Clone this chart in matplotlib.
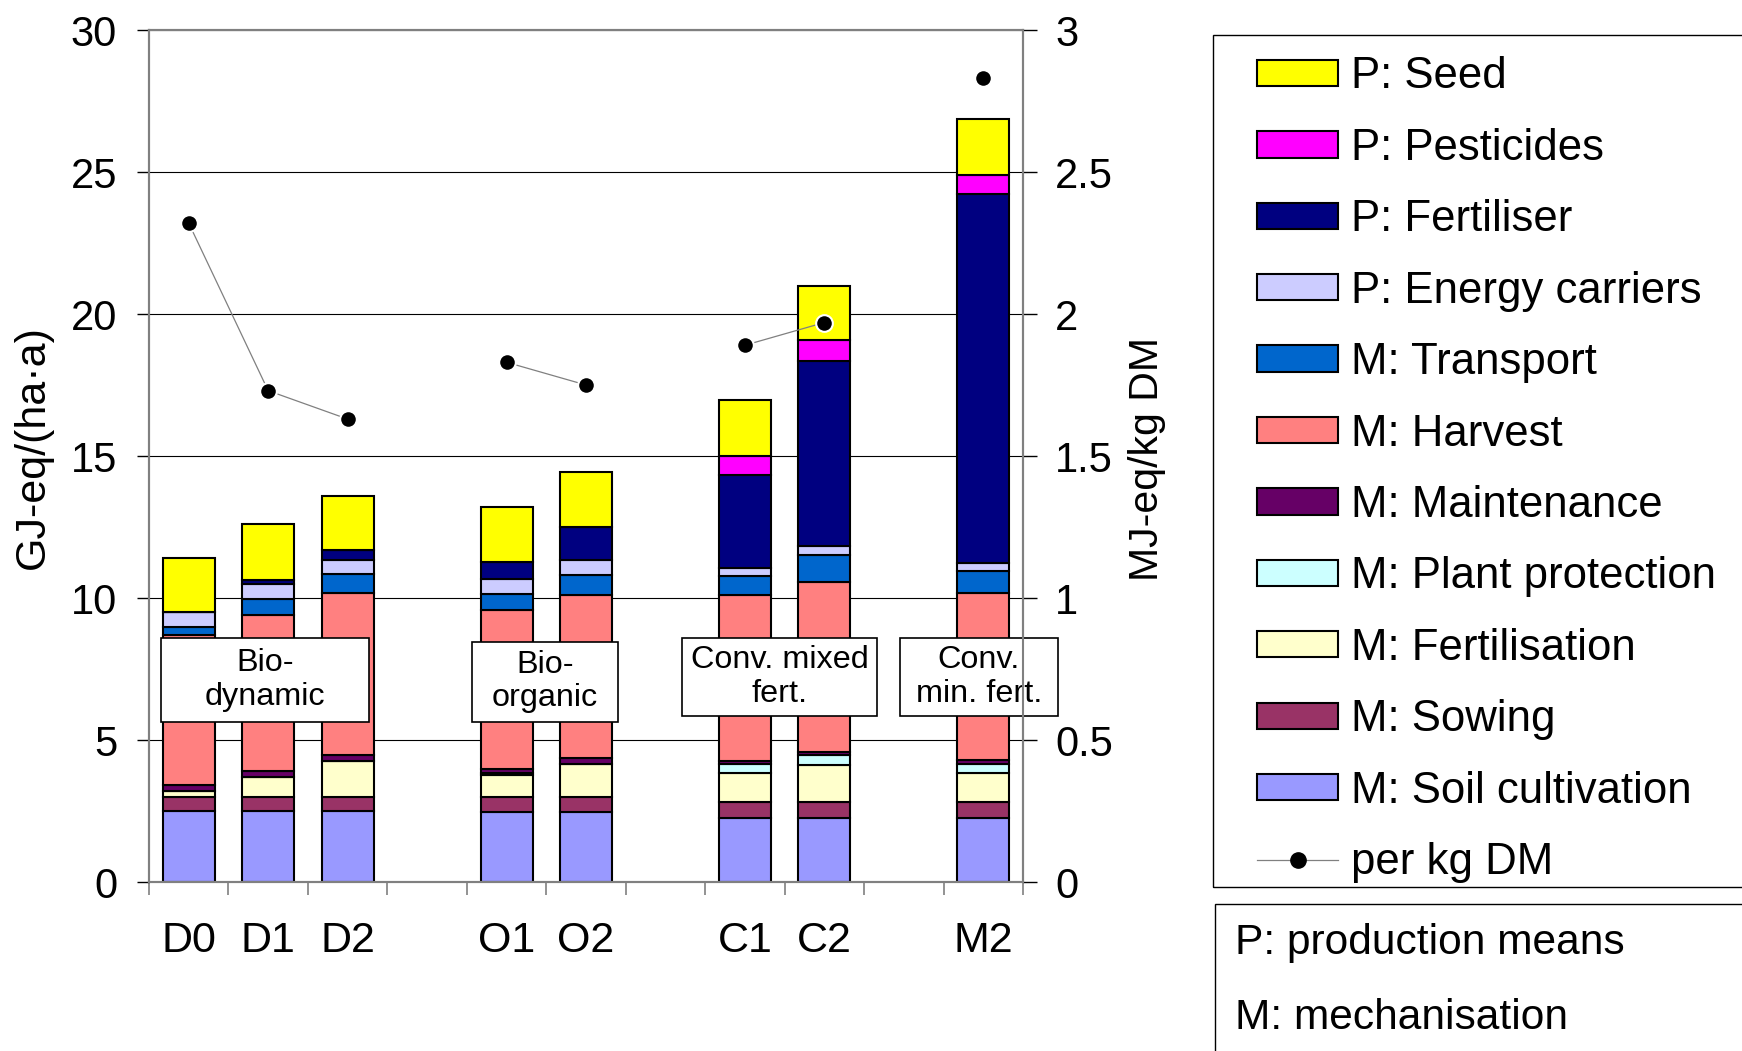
import numpy as np
import matplotlib
matplotlib.use("Agg")
import matplotlib.pyplot as plt
from matplotlib.patches import Patch, Rectangle
from matplotlib.lines import Line2D
from matplotlib.ticker import FuncFormatter

plt.rcParams["font.family"] = ["Liberation Sans", "DejaVu Sans"]

# x slots (blank slots separate the system groups)
slots = ["D0", "D1", "D2", "", "O1", "O2", "", "C1", "C2", "", "M2"]
systems = ["D0", "D1", "D2", "O1", "O2", "C1", "C2", "M2"]

# energy demand, GJ-eq/(ha*a), stacked bottom -> top
soil_cultivation = [2.50, 2.50, 2.50, 2.47, 2.47, 2.25, 2.25, 2.25]
sowing           = [0.48, 0.48, 0.48, 0.53, 0.53, 0.57, 0.57, 0.57]
fertilisation    = [0.24, 0.71, 1.27, 0.78, 1.16, 1.02, 1.31, 1.03]
plant_protection = [0.00, 0.00, 0.00, 0.05, 0.00, 0.31, 0.33, 0.32]
maintenance      = [0.20, 0.21, 0.21, 0.15, 0.19, 0.12, 0.12, 0.11]
harvest          = [5.27, 5.50, 5.70, 5.60, 5.75, 5.83, 5.99, 5.88]
transport        = [0.30, 0.58, 0.67, 0.55, 0.70, 0.67, 0.93, 0.78]
energy_carriers  = [0.50, 0.50, 0.52, 0.54, 0.55, 0.29, 0.32, 0.30]
fertiliser       = [0.00, 0.17, 0.33, 0.60, 1.15, 3.27, 6.53, 12.99]
pesticides       = [0.00, 0.00, 0.00, 0.00, 0.00, 0.67, 0.72, 0.68]
seed             = [1.93, 1.95, 1.92, 1.93, 1.94, 1.97, 1.93, 1.94]

# MJ-eq/kg DM (right axis)
per_kg_dm = [2.32, 1.73, 1.63, 1.83, 1.75, 1.89, 1.97, 2.83]

series = [
    ("M: Soil cultivation", soil_cultivation, "#9999FF"),
    ("M: Sowing", sowing, "#993366"),
    ("M: Fertilisation", fertilisation, "#FFFFCC"),
    ("M: Plant protection", plant_protection, "#CCFFFF"),
    ("M: Maintenance", maintenance, "#660066"),
    ("M: Harvest", harvest, "#FF8080"),
    ("M: Transport", transport, "#0066CC"),
    ("P: Energy carriers", energy_carriers, "#CCCCFF"),
    ("P: Fertiliser", fertiliser, "#000080"),
    ("P: Pesticides", pesticides, "#FF00FF"),
    ("P: Seed", seed, "#FFFF00"),
]

groups = [("Bio-\ndynamic", (0.0137, 0.1878, 0.2380, 0.0989)),
          ("Bio-\norganic", (0.3692, 0.1881, 0.1678, 0.0939)),
          ("Conv. mixed\nfert.", (0.6098, 0.1948, 0.2232, 0.0919)),
          ("Conv.\nmin. fert.", (0.8593, 0.1948, 0.1807, 0.0919))]

FS = 30
LFS = 31.5
W, H = 1742, 1051
fig = plt.figure(figsize=(W / 100, H / 100), dpi=100)
ax = fig.add_axes([149 / W, 1 - 882 / H, 874 / W, 852 / H])

pos = np.array([slots.index(s) + 0.5 for s in systems])
bottom = np.zeros(len(systems))
for label, vals, col in series:
    vals = np.array(vals)
    ax.bar(pos, vals, 0.655, bottom=bottom, color=col, edgecolor="black",
           linewidth=1.5, zorder=2)
    bottom += vals

ax.set_xlim(0, len(slots))
ax.set_ylim(0, 30)
ax.set_yticks(np.arange(0, 31, 5))
ax.yaxis.grid(True, color="black", lw=0.8, zorder=0)
ax.set_axisbelow(True)
ax.set_xticks(np.arange(len(slots) + 1))
ax.set_xticklabels([])
ax.set_xticks(np.arange(len(slots)) + 0.5, minor=True)
ax.set_xticklabels(slots, minor=True, fontsize=31)
ax.tick_params(axis="x", which="major", length=9, color="#808080", width=1.2)
ax.tick_params(axis="x", which="minor", length=0, pad=28)
ax.tick_params(axis="y", length=9, width=1, color="black", pad=14, labelsize=FS)
ax.set_ylabel("GJ-eq/(ha·a)", fontsize=31)
ax.yaxis.set_label_coords(-0.11, 0.51)

for txt, (x0, y0, w, h) in groups:
    ax.add_patch(Rectangle((x0, y0), w, h, transform=ax.transAxes, facecolor="white",
                           edgecolor="black", lw=1.2, zorder=4, clip_on=False))
    ax.text(x0 + w / 2, y0 + h / 2, txt, transform=ax.transAxes, ha="center",
            va="center", fontsize=23.3, linespacing=1.15, zorder=5)

ax2 = ax.twinx()
ax2.set_ylim(0, 3)
ax2.set_yticks(np.arange(0, 3.01, 0.5))
ax2.yaxis.set_major_formatter(FuncFormatter(lambda v, p: f"{v:g}"))
ax2.tick_params(axis="y", length=10, width=1, color="black", pad=13, labelsize=FS)
ax2.set_ylabel("MJ-eq/kg DM", fontsize=29.5)
ax2.yaxis.set_label_coords(1.12, 0.497)

line_y = np.full(len(slots), np.nan)
for s, v in zip(systems, per_kg_dm):
    line_y[slots.index(s)] = v
ax2.plot(np.arange(len(slots)) + 0.5, line_y, color="#808080", lw=0.9, marker="o",
         ms=12, mfc="black", mec="white", mew=1.5, zorder=6)

for a in (ax, ax2):
    for sp in a.spines.values():
        sp.set_color("#808080")
        sp.set_linewidth(1.5)

handles = [Patch(facecolor=c, edgecolor="black", lw=1.5) for _, _, c in series[::-1]]
labels = [l for l, _, _ in series[::-1]]
handles.append(Line2D([], [], color="#808080", lw=0.9, marker="o", ms=11,
                      mfc="black", mec="black"))
labels.append("per kg DM")
fig.legend(handles, labels, loc="upper left", bbox_to_anchor=(1257 / W, 1 - 56.5 / H),
           frameon=False, borderpad=0, borderaxespad=0, fontsize=LFS,
           handlelength=1.855, handleheight=0.55, handletextpad=0.3, labelspacing=0.695)
fig.add_artist(Rectangle((1213 / W, 1 - 887 / H), 0.5, 852 / H, transform=fig.transFigure,
                         fill=False, edgecolor="black", lw=1.0))
fig.add_artist(Rectangle((1215 / W, -0.1), 0.5, 0.1 + 1 - 904 / H, transform=fig.transFigure,
                         fill=False, edgecolor="black", lw=1.0))
fig.text(1235 / W, 1 - 943 / H, "P: production means", fontsize=30.6, va="center")
fig.text(1235 / W, 1 - 1018 / H, "M: mechanisation", fontsize=30.6, va="center")

fig.savefig("out.png", dpi=100)
